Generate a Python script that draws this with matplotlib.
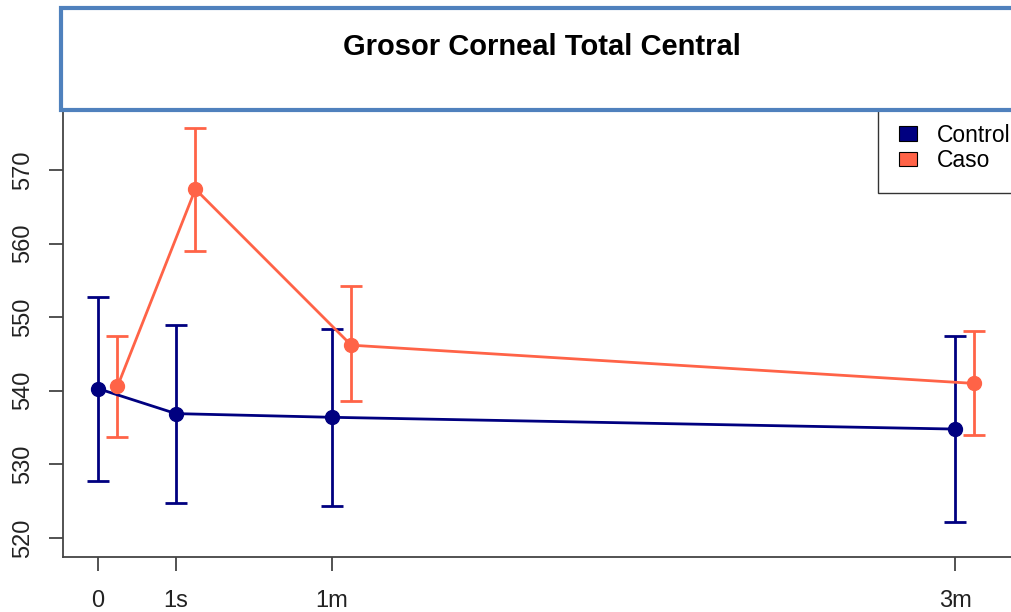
import matplotlib
matplotlib.use("Agg")
import matplotlib.pyplot as plt
from matplotlib.patches import Rectangle, Patch

plt.rcParams['font.family'] = ['Liberation Sans', 'DejaVu Sans']

# Data
tick_labels = ["0", "1s", "1m", "3m"]
time_pos = [0, 1, 3, 11]
caso_offset = 0.25

control_mean = [540.3, 536.9, 536.4, 534.8]
control_upper = [552.8, 548.9, 548.4, 547.5]
control_lower = [527.8, 524.8, 524.3, 522.2]

caso_mean = [540.6, 567.4, 546.2, 541.0]
caso_upper = [547.5, 575.7, 554.2, 548.1]
caso_lower = [533.7, 559.0, 538.6, 534.0]

series_names = ["Control", "Caso"]
colors = ["#000080", "#FF6347"]

W, H = 1011, 612
fig = plt.figure(figsize=(W / 100, H / 100), dpi=100)
# axes pixel box
left, right, top, bottom = 63, 1011, 108, 557
ax = fig.add_axes([left / W, 1 - bottom / H, (right - left) / W, (bottom - top) / H])

# x scale: 0 -> 98 px, 11 -> 955 px
pxu = (955 - 98) / 11
ax.set_xlim((left - 98) / pxu, (right - 98) / pxu)
# y scale: 570 -> 170 px, 520 -> 538 px
pyu = (538 - 170) / 50
ax.set_ylim(520 - (bottom - 538) / pyu, 570 + (170 - top) / pyu)

def draw(xs, mean, lo, hi, color):
    ax.plot(xs, mean, color=color, lw=2.0, marker='o', ms=10, mec=color, mfc=color, zorder=3,
            solid_capstyle='butt')
    ax.vlines(xs, lo, hi, color=color, lw=2.0, zorder=2)
    cap = 11 / pxu
    ax.hlines(lo, [x - cap for x in xs], [x + cap for x in xs], color=color, lw=2.0, zorder=2)
    ax.hlines(hi, [x - cap for x in xs], [x + cap for x in xs], color=color, lw=2.0, zorder=2)

draw(time_pos, control_mean, control_lower, control_upper, colors[0])
draw([t + caso_offset for t in time_pos], caso_mean, caso_lower, caso_upper, colors[1])

for s in ['top', 'right']:
    ax.spines[s].set_visible(False)
for s in ['left', 'bottom']:
    ax.spines[s].set_color('#444444')
    ax.spines[s].set_linewidth(1.3)

ax.set_xticks(time_pos)
ax.set_xticklabels(tick_labels)
ax.set_yticks([520, 530, 540, 550, 560, 570])
ax.tick_params(axis='both', length=10, width=1.3, color='#444444', labelsize=17,
               labelcolor='#222222')
ax.tick_params(axis='x', pad=14)
ax.tick_params(axis='y', pad=11)
for lab in ax.get_yticklabels():
    lab.set_rotation(90)
    lab.set_va('center')

# Title box
fig.patches.append(Rectangle((61 / W, 1 - 110 / H), (1040 - 61) / W, (110 - 8) / H,
                             transform=fig.transFigure, facecolor='white',
                             edgecolor='#4F81BD', lw=3, zorder=5))
fig.text(542 / W, 1 - 47 / H, "Grosor Corneal Total Central", ha='center', va='center',
         fontsize=21, fontweight='bold', zorder=6)

# Legend
handles = [Patch(facecolor=c, edgecolor='black', lw=0.8) for c in colors]
leg = fig.legend(handles, series_names, loc='lower left',
                 bbox_to_anchor=(878 / W, 1 - 193 / H), frameon=True, fancybox=False,
                 edgecolor='black', fontsize=16.5, handlelength=0.78, handleheight=0.57,
                 handletextpad=0.87, borderpad=0.9, labelspacing=0.12, borderaxespad=0)
leg.get_frame().set_linewidth(1.0)
leg.set_zorder(4)

fig.savefig("out.png", dpi=100)
